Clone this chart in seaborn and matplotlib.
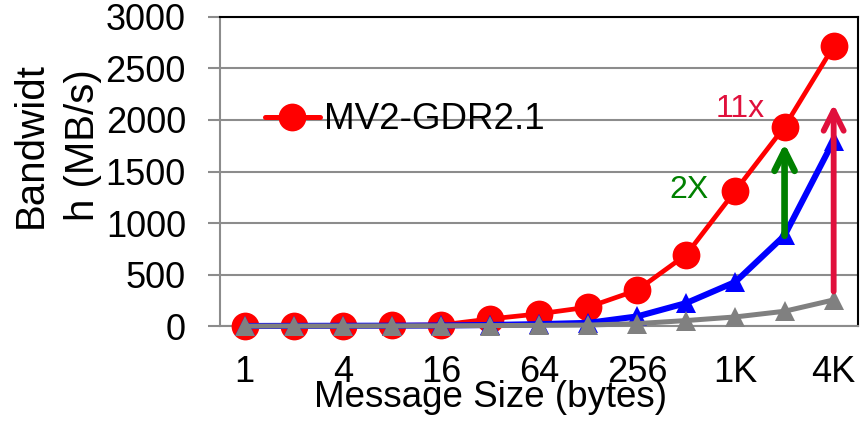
import pandas as pd
import matplotlib
matplotlib.use("Agg")
import matplotlib.pyplot as plt
from matplotlib.lines import Line2D
import seaborn as sns

# Message sizes (category axis) and bandwidth values in MB/s
sizes = ["1", "2", "4", "8", "16", "32", "64", "128", "256", "512", "1K", "2K", "4K"]
shown_ticks = ["1", "4", "16", "64", "256", "1K", "4K"]
series_names = ["MV2-GDR2.1", "MV2-GDR2.0b", "MV2 w/o GDR"]
bw_gdr21 = [3, 5, 6, 8, 12, 70, 120, 185, 350, 695, 1315, 1935, 2715]
bw_gdr20b = [2, 3, 4, 5, 7, 12, 20, 32, 95, 225, 430, 880, 1800]
bw_nogdr = [1, 2, 2, 3, 4, 6, 8, 11, 25, 55, 90, 145, 255]

colors = {"MV2-GDR2.1": "#FF0000", "MV2-GDR2.0b": "#0000FF", "MV2 w/o GDR": "#808080"}
markers = {"MV2-GDR2.1": "o", "MV2-GDR2.0b": "^", "MV2 w/o GDR": "^"}
msizes = {"MV2-GDR2.1": 20, "MV2-GDR2.0b": 15, "MV2 w/o GDR": 14}
lwidths = {"MV2-GDR2.1": 3.4, "MV2-GDR2.0b": 4.4, "MV2 w/o GDR": 3.6}

df = pd.concat([
    pd.DataFrame({"size": sizes, "bw": vals, "series": name})
    for name, vals in zip(series_names, [bw_gdr21, bw_gdr20b, bw_nogdr])
], ignore_index=True)

sns.set_style("white")
plt.rcParams["font.family"] = ["Liberation Sans", "DejaVu Sans"]
plt.rcParams["text.color"] = "black"
plt.rcParams["xtick.color"] = "black"
plt.rcParams["ytick.color"] = "black"
FS = 26
GRID = "#8C8C8C"

fig = plt.figure(figsize=(8.66, 4.22), dpi=100)
ax = fig.add_axes([0.254, 0.227, 0.737, 0.733])

for name in series_names:
    sub = df[df["series"] == name]
    sns.lineplot(data=sub, x="size", y="bw", color=colors[name], marker=markers[name],
                 markersize=msizes[name], markeredgewidth=0, linewidth=lwidths[name],
                 sort=False, ax=ax, clip_on=False, zorder=3, legend=False)

n = len(sizes)
ax.set_xlim(-0.5, n - 0.5)
ax.set_ylim(0, 3000)
ax.set_yticks(range(0, 3001, 500))
ax.yaxis.grid(True, color=GRID, linewidth=1.5)
ax.set_axisbelow(True)

ax.set_xticks([sizes.index(t) for t in shown_ticks])
ax.set_xticklabels(shown_ticks)
ax.set_xticks([i - 0.5 for i in range(n + 1)], minor=True)
ax.tick_params(axis="x", which="major", length=0, pad=21, labelsize=FS, labelcolor="black")
ax.tick_params(axis="x", which="minor", length=8, width=1.5, color=GRID, direction="out")
ax.tick_params(axis="y", length=8.5, width=1.5, color=GRID, pad=16, labelsize=FS,
               labelcolor="black", left=True)

for side in ["left", "bottom"]:
    ax.spines[side].set_color(GRID)
    ax.spines[side].set_linewidth(1.5)
for side in ["top", "right"]:
    ax.spines[side].set_color("black")
    ax.spines[side].set_linewidth(1.5)

ax.set_xlabel("")
ax.set_ylabel("")
fig.text(490 / 866, 1 - 407 / 422, "Message Size (bytes)", ha="center", va="baseline",
         fontsize=26.5, color="black")
fig.text(57 / 866, 1 - 145 / 422, "Bandwidt\nh (MB/s)", rotation=90, ha="center", va="center",
         fontsize=29, linespacing=1.5, multialignment="center", color="black")

# speedup arrows
ax.annotate("", xy=(sizes.index("2K"), 1800), xytext=(sizes.index("2K"), 850),
            arrowprops=dict(arrowstyle="->", color="#008000", lw=4.8, mutation_scale=36), zorder=4)
ax.text(sizes.index("2K") - 1.95, 1320, "2X", color="#008000", fontsize=FS - 3, ha="center", va="center")
ax.annotate("", xy=(sizes.index("4K"), 2180), xytext=(sizes.index("4K"), 310),
            arrowprops=dict(arrowstyle="->", color="#E0103C", lw=4.2, mutation_scale=36), zorder=4)
ax.text(sizes.index("4K") - 1.9, 2110, "11x", color="#E0103C", fontsize=FS - 3, ha="center", va="center")

handle = Line2D([], [], color=colors["MV2-GDR2.1"], marker="o", markersize=20,
                markeredgewidth=0, linewidth=3.6)
ax.legend(handles=[handle], labels=["MV2-GDR2.1"], loc="center left",
          bbox_to_anchor=(0.07, 0.667), frameon=False, fontsize=26.5, handlelength=1.5,
          handletextpad=0.1, borderpad=0, borderaxespad=0)

fig.savefig("out.png", dpi=100)
